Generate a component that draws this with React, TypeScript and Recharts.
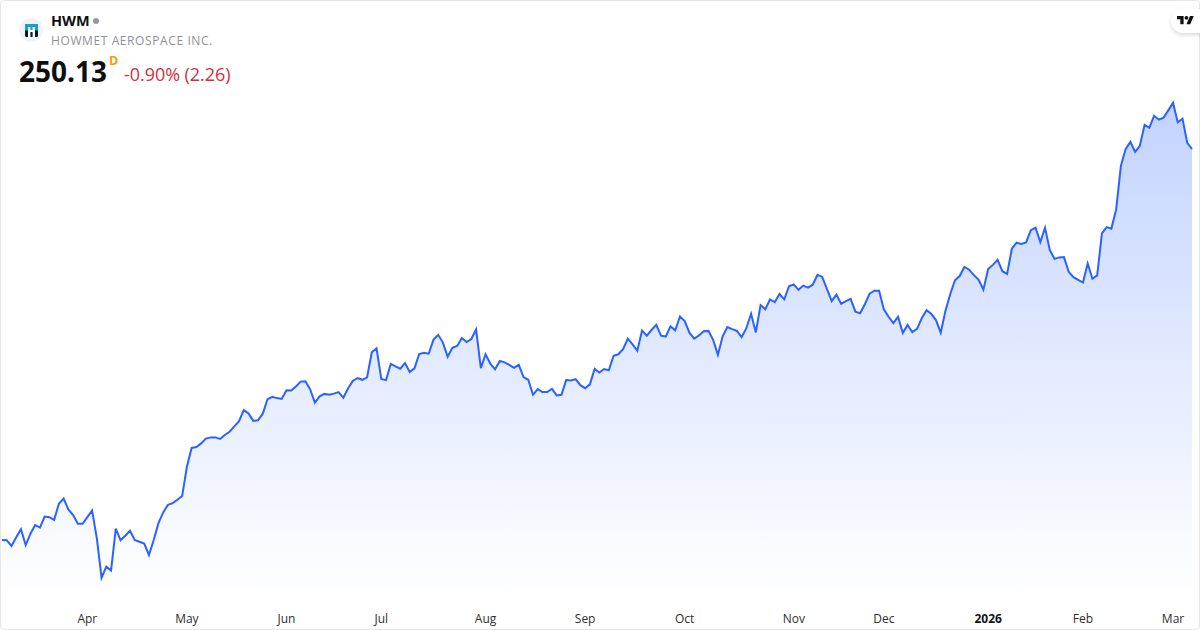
import { AreaChart, Area, XAxis, YAxis } from 'recharts';

// daily closes, one list per calendar month
const mar25 = [119.8, 119.7, 117.8, 120.7, 123.4, 118.1, 121.9, 124.8, 123.9, 127.6, 127.4, 126.5, 131.9, 133.6, 130.0, 128.1, 125.2, 125.2];
const apr25 = [127.4, 129.6, 120.4, 107.2, 110.9, 109.6, 123.6, 119.7, 121.2, 122.9, 119.8, 119.2, 118.6, 114.8, 119.8, 125.4, 129.0, 131.5, 132.1, 133.2, 134.5];
const may25 = [144.2, 150.5, 150.8, 152.0, 153.6, 154.0, 154.0, 153.5, 154.8, 155.9, 157.7, 159.4, 163.1, 162.0, 159.5, 159.7, 161.9, 166.7, 167.5, 167.1, 166.8];
const jun25 = [169.7, 169.6, 171.0, 172.6, 172.7, 170.0, 165.6, 167.7, 168.5, 168.2, 168.6, 169.1, 167.2, 170.4, 172.8, 173.8, 173.2, 174.0, 182.4, 183.7];
const jul25 = [173.5, 173.1, 178.5, 177.7, 176.9, 178.8, 175.8, 177.0, 181.8, 182.2, 181.9, 186.5, 188.2, 185.6, 180.9, 183.9, 184.5, 187.1, 185.8, 186.8, 190.0, 177.1];
const aug25 = [181.7, 178.6, 176.7, 179.5, 179.0, 178.2, 177.2, 178.2, 174.1, 173.2, 168.2, 170.1, 169.1, 169.1, 170.2, 168.0, 168.2, 173.1, 173.0, 173.4, 171.4];
const sep25 = [170.4, 171.7, 176.8, 175.6, 176.8, 176.4, 181.2, 181.7, 183.4, 186.9, 185.0, 182.9, 189.6, 187.9, 189.8, 191.5, 187.9, 187.6, 191.0, 189.7, 194.3];
const oct25 = [192.8, 188.9, 186.9, 188.0, 189.4, 189.5, 186.5, 181.5, 187.7, 190.8, 190.1, 189.5, 187.4, 190.4, 195.2, 189.0, 198.1, 196.7, 200.0, 199.1, 201.8, 200.0, 204.4];
const nov25 = [205.0, 203.2, 204.6, 203.9, 204.9, 208.2, 207.5, 203.5, 199.4, 201.6, 198.5, 199.4, 200.2, 195.9, 195.4, 198.4, 201.9, 202.9, 202.9];
const dec25 = [196.7, 194.2, 192.1, 194.2, 188.8, 191.5, 189.1, 190.2, 193.7, 196.4, 195.2, 193.1, 188.9, 196.2, 201.7, 206.4, 207.8, 210.8, 209.9, 208.1, 206.5, 203.2];
const jan26 = [210.1, 211.5, 213.2, 209.4, 208.5, 216.9, 218.9, 218.5, 219.0, 223.1, 223.9, 219.1, 223.9, 216.5, 213.5, 214.0, 214.1, 209.2, 207.4, 206.5];
const feb26 = [205.6, 212.0, 206.9, 208.0, 222.0, 224.1, 223.6, 230.0, 244.5, 250.1, 252.5, 249.2, 251.2, 258.2, 257.2, 261.2, 259.9, 260.6, 263.0];
const mar26 = [265.5, 259.0, 260.2, 252.2, 250.13];

const monthLabels = ['', 'Apr', 'May', 'Jun', 'Jul', 'Aug', 'Sep', 'Oct', 'Nov', 'Dec', '2026', 'Feb', 'Mar'];
const monthCloses = [mar25, apr25, may25, jun25, jul25, aug25, sep25, oct25, nov25, dec25, jan26, feb26, mar26];

const rows: { session: number; close: number }[] = [];
const monthTicks: number[] = [];
const tickLabels: Record<number, string> = {};
monthCloses.forEach((closes, m) => {
  if (monthLabels[m]) {
    monthTicks.push(rows.length);
    tickLabels[rows.length] = monthLabels[m];
  }
  closes.forEach((close) => rows.push({ session: rows.length, close }));
});

const MonthTick = ({ x, y, payload }: any) => {
  const label = tickLabels[payload.value];
  const isYear = label === '2026';
  return (
    <text
      x={x}
      y={y}
      dy={18}
      textAnchor="middle"
      fontFamily="'Open Sans', sans-serif"
      fontSize={12}
      fontWeight={isYear ? 700 : 400}
      fill={isYear ? '#131313' : '#2e2e2e'}
    >
      {label}
    </text>
  );
};

const App = () => {
  return (
    <div
      style={{
        position: 'absolute',
        left: 0,
        top: 0,
        width: 1200,
        height: 630,
        boxSizing: 'border-box',
        background: '#fff',
        fontFamily: "'Open Sans', sans-serif",
        overflow: 'hidden',
      }}
    >
      <div style={{ position: 'absolute', left: 0, top: 0 }}>
        <AreaChart width={1200} height={630} data={rows} margin={{ top: 0, right: 8, left: 2, bottom: 0 }}>
          <defs>
            <linearGradient id="closeFill" x1="0" y1="0" x2="0" y2="1">
              <stop offset="0%" stopColor="#2962FF" stopOpacity={0.28} />
              <stop offset="100%" stopColor="#2962FF" stopOpacity={0} />
            </linearGradient>
          </defs>
          <XAxis
            dataKey="session"
            type="number"
            domain={[0, 251]}
            ticks={monthTicks}
            interval={0}
            height={33}
            axisLine={false}
            tickLine={false}
            tick={<MonthTick />}
          />
          <YAxis hide domain={[100.8, 299.8]} allowDataOverflow />
          <Area
            type="linear"
            dataKey="close"
            stroke="#2962FF"
            strokeWidth={2}
            fill="url(#closeFill)"
            fillOpacity={1}
            isAnimationActive={false}
            dot={false}
            activeDot={false}
          />
        </AreaChart>
      </div>

      {/* card outline */}
      <div
        style={{
          position: 'absolute',
          inset: 0,
          border: '1px solid #e6e6e8',
          borderRadius: 4,
          boxSizing: 'border-box',
          pointerEvents: 'none',
        }}
      />

      {/* header */}
      <svg width={24} height={24} style={{ position: 'absolute', left: 19, top: 18 }}>
        <circle cx={12} cy={12} r={12} fill="#f0f3fa" />
        <rect x={6} y={6} width={13} height={13} rx={1.5} fill="#131722" />
        <path d="M6 12.5V7.5A1.5 1.5 0 0 1 7.5 6h10A1.5 1.5 0 0 1 19 7.5v5z" fill="#12a5c7" />
        <rect x={9} y={9} width={2.4} height={10} fill="#fff" />
        <rect x={13.6} y={9} width={2.4} height={10} fill="#fff" />
        <rect x={9} y={12} width={7} height={2} fill="#fff" />
      </svg>
      <div style={{ position: 'absolute', left: 51, top: 11, fontSize: 14.5, lineHeight: '20px', fontWeight: 700, color: '#0f0f0f' }}>
        HWM
      </div>
      <div style={{ position: 'absolute', left: 93, top: 18, width: 6, height: 6, borderRadius: 3, background: '#9598a1' }} />
      <div style={{ position: 'absolute', left: 51, top: 32, fontSize: 12, lineHeight: '18px', letterSpacing: 0.6, color: '#8f9197' }}>
        HOWMET AEROSPACE INC.
      </div>
      <div style={{ position: 'absolute', left: 19, top: 52, fontSize: 28, lineHeight: '38px', fontWeight: 700, color: '#0f0f0f' }}>
        250.13
      </div>
      <div style={{ position: 'absolute', left: 109, top: 53, fontSize: 12.5, lineHeight: '16px', fontWeight: 700, color: '#ff9800' }}>
        D
      </div>
      <div style={{ position: 'absolute', left: 124, top: 62, fontSize: 18, lineHeight: '25px', letterSpacing: -0.05, color: '#d02f42' }}>
        -0.90% (2.26)
      </div>

      {/* TradingView badge */}
      <div
        style={{
          position: 'absolute',
          left: 1171,
          top: 9,
          width: 40,
          height: 24,
          borderRadius: 12,
          background: '#fff',
          boxShadow: '0 2px 4px rgba(0,0,0,0.15)',
        }}
      >
        <svg viewBox="0 0 36 28" width={17} height={13.2} style={{ position: 'absolute', left: 6, top: 5 }}>
          <path d="M14 22H7V11H0V4h14v18zM28 22h-8l7.5-18h8L28 22z" fill="#0f0f0f" />
          <circle cx={20} cy={8} r={4} fill="#0f0f0f" />
        </svg>
      </div>
    </div>
  );
};

export default App;
